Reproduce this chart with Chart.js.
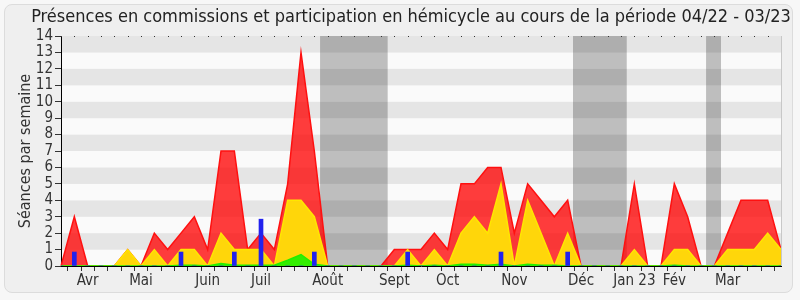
<!DOCTYPE html>
<html>
<head>
<meta charset="utf-8">
<script src="https://cdn.jsdelivr.net/npm/chart.js@4"></script>
<style>
  body { margin: 0; background: #f7f7f7; }
  #cadre { position: absolute; left: 4px; top: 4px; width: 787px; height: 287px; border: 1px solid #dcdcdc; border-radius: 8px; background: #efefef; }
  #graph { position: absolute; left: 0; top: 0; }
</style>
</head>
<body>
<div id="cadre"></div>
<canvas id="graph" width="800" height="300"></canvas>
<script>
// semaines du 04/22 au 03/23 (55 points)
const moisLabels = ["Avr", "Mai", "Juin", "Juil", "Août", "Sept", "Oct", "Nov", "Déc", "Jan 23", "Fév", "Mar"];
const moisSemaine = [2, 6, 11, 15, 20, 25, 29, 34, 39, 43, 46, 50];

// presences totales (rouge)
const presences = [0, 3, 0, 0, 0, 1, 0, 2, 1, 2, 3, 1, 7, 7, 1, 2, 1, 5, 13, 7,
                   0, 0, 0, 0, 0, 1, 1, 1, 2, 1, 5, 5, 6, 6, 2, 5, 4, 3, 4, 0,
                   0, 0, 0, 5, 0, 0, 5, 3, 0, 0, 2, 4, 4, 4, 1];
// presences en commission (jaune)
const commissions = [0, 0, 0, 0, 0, 1, 0, 1, 0, 1, 1, 0, 2, 1, 1, 1, 0, 4, 4, 3,
                     0, 0, 0, 0, 0, 0, 1, 0, 1, 0, 2, 3, 2, 5, 0, 4, 2, 0, 2, 0,
                     0, 0, 0, 1, 0, 0, 1, 1, 0, 0, 1, 1, 1, 2, 1];
// hemicycle (vert)
const hemicycle = [0, 0, 0, 0, 0, 0, 0, 0, 0, 0.05, 0.05, 0, 0.15, 0.05, 0.05, 0.05, 0.05, 0.35, 0.7, 0.1,
                   0, 0, 0, 0, 0, 0, 0.05, 0, 0.05, 0, 0.1, 0.1, 0.05, 0.1, 0, 0.1, 0.05, 0.05, 0, 0,
                   0, 0, 0, 0, 0, 0, 0.05, 0, 0, 0, 0, 0, 0, 0, 0];
// interventions (barres bleues)
const interventions = [0, 0.85, 0, 0, 0, 0, 0, 0, 0, 0.85, 0, 0, 0, 0.85, 0, 2.85, 0, 0, 0, 0.85,
                       0, 0, 0, 0, 0, 0, 0.85, 0, 0, 0, 0, 0, 0, 0.85, 0, 0, 0, 0, 0.85, 0,
                       0, 0, 0, 0, 0, 0, 0, 0, 0, 0, 0, 0, 0, 0, 0];
// vacances parlementaires (en semaines)
const vacances = [[19.43, 24.5], [38.4, 42.43], [48.38, 49.5]];

const titre = "Présences en commissions et participation en hémicycle au cours de la période 04/22 - 03/23";
const police = "'DejaVu Sans Condensed', 'DejaVu Sans'";

const semaines = presences.map((v, i) => {
    const k = moisSemaine.indexOf(i);
    return k >= 0 ? moisLabels[k] : "";
});

const fond = {
    id: "fond",
    beforeDraw(chart) {
        const { ctx, chartArea: a, scales: { x, y } } = chart;
        ctx.save();
        for (let k = 0; k < 14; k++) {
            ctx.fillStyle = k % 2 ? "#e5e5e5" : "#fafafa";
            const y1 = y.getPixelForValue(k + 1), y0 = y.getPixelForValue(k);
            ctx.fillRect(a.left, y1, a.right - a.left, y0 - y1);
        }
        ctx.fillStyle = "rgba(0,0,0,0.24)";
        vacances.forEach(([d, f]) => {
            const x0 = x.getPixelForValue(d), x1 = x.getPixelForValue(f);
            ctx.fillRect(x0, a.top, x1 - x0, a.bottom - a.top);
        });
        ctx.fillStyle = "#222";
        ctx.font = "18px " + police;
        ctx.textAlign = "center";
        ctx.textBaseline = "middle";
        ctx.fillText(titre, 411, 17);
        ctx.restore();
    },
    afterDraw(chart) {
        const { ctx, chartArea: a, scales: { x } } = chart;
        ctx.save();
        ctx.fillStyle = "#333";
        for (let i = 0; i < presences.length; i++) {
            ctx.fillRect(Math.round(x.getPixelForValue(i)), a.top, 1, 1);
        }
        ctx.fillStyle = "#c8c8c8";
        ctx.fillRect(a.right, a.top, 1, a.bottom - a.top);
        ctx.restore();
    }
};

new Chart(document.getElementById("graph"), {
    type: "line",
    data: {
        labels: semaines,
        datasets: [
            {
                type: "bar",
                data: interventions,
                backgroundColor: "#2222ee",
                barThickness: 4,
                order: 0
            },
            {
                data: hemicycle,
                borderColor: "#22ee00",
                backgroundColor: "#33ee00",
                borderWidth: 1.5,
                fill: "origin",
                order: 1
            },
            {
                data: commissions,
                borderColor: "#ffe600",
                backgroundColor: "#ffd60a",
                borderWidth: 1.5,
                fill: "origin",
                order: 2
            },
            {
                data: presences,
                borderColor: "#ff1010",
                backgroundColor: "rgba(255,0,0,0.76)",
                borderWidth: 1.5,
                fill: "origin",
                order: 3
            }
        ]
    },
    options: {
        responsive: false,
        animation: false,
        layout: { padding: { left: 0, top: 36, right: 19, bottom: 0 } },
        elements: { point: { radius: 0 }, line: { tension: 0 } },
        plugins: { legend: { display: false }, tooltip: { enabled: false } },
        scales: {
            x: {
                offset: false,
                afterFit: s => { s.height = 34; },
                grid: { display: true, drawOnChartArea: false, tickLength: 5, color: "#333" },
                border: { color: "#000" },
                ticks: { autoSkip: false, maxRotation: 0, padding: 1, color: "#333", font: { family: police, size: 15 } }
            },
            y: {
                min: 0,
                max: 14,
                afterFit: s => { s.width = 61; },
                grid: { display: true, drawOnChartArea: false, tickLength: 6, color: "#333" },
                border: { color: "#000" },
                ticks: { stepSize: 1, autoSkip: false, padding: 2, color: "#333", font: { family: police, size: 15 } },
                title: { display: true, text: "Séances par semaine", color: "#333", padding: { top: 16, bottom: 0 }, font: { family: police, size: 16 } }
            }
        }
    },
    plugins: [fond]
});
</script>
</body>
</html>
